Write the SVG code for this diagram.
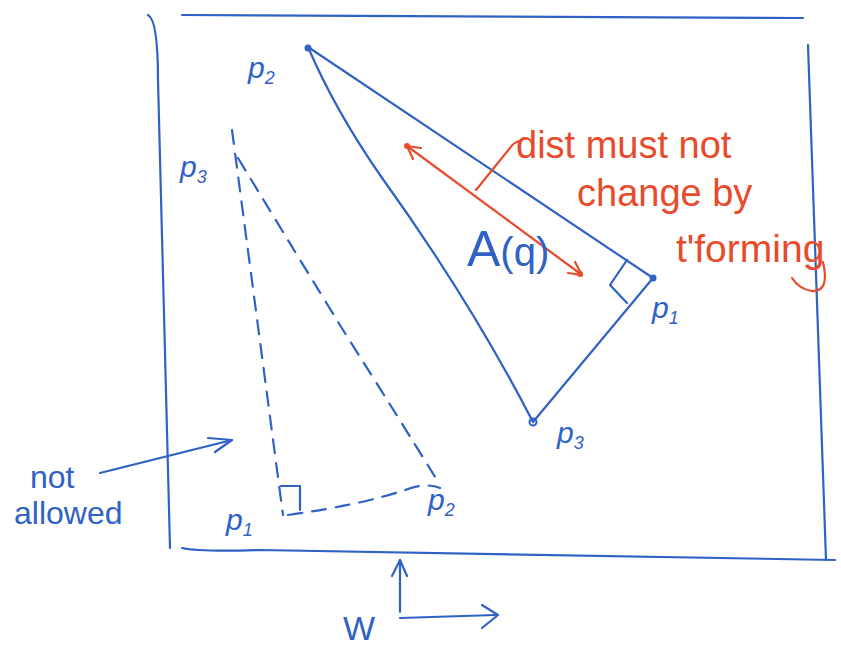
<svg xmlns="http://www.w3.org/2000/svg" width="841" height="647" viewBox="0 0 841 647">
<style>
.b{fill:none;stroke:#2f62c4;stroke-width:2.2;stroke-linecap:round;stroke-linejoin:round}
.bd{fill:none;stroke:#2f62c4;stroke-width:2.2;stroke-dasharray:14 10;stroke-linecap:round}
.r{fill:none;stroke:#e84a2c;stroke-width:2.2;stroke-linecap:round;stroke-linejoin:round}
.tb{fill:#2f62c4;font-family:"Liberation Sans",sans-serif;font-style:italic}
.tn{fill:#2f62c4;font-family:"Liberation Sans",sans-serif}
.tr{fill:#e84a2c;font-family:"Liberation Sans",sans-serif}
</style>
<rect width="841" height="647" fill="#ffffff"/>
<g id="frame">
<path class="b" d="M148,15 Q158,20 158,80 L170,548"/>
<path class="b" d="M182,15 L803,18"/>
<path class="b" d="M808,45 L826,560"/>
<path class="b" d="M182,548 Q200,552 260,550 L835,560"/>
</g>
<g id="triangle">
<path class="b" d="M308,47 L653,278"/>
<path class="b" d="M653,278 L533,422"/>
<path class="b" d="M308,47 Q335,110 380,175 Q470,300 533,422"/>
<circle cx="308" cy="48" r="3.5" fill="#2f62c4"/>
<circle cx="653" cy="278" r="3.5" fill="#2f62c4"/>
<circle cx="533" cy="422" r="3.5" fill="none" stroke="#2f62c4" stroke-width="2"/>
<path class="b" d="M627,260 L610,285 L627,303"/>
</g>
<g id="dashed-triangle">
<path class="bd" d="M232,130 L283,515"/>
<path class="bd" d="M238,158 Q300,260 343,330 Q400,420 437,480"/>
<path class="bd" d="M288,515 Q360,505 405,490 Q425,482 440,488"/>
<path class="b" d="M281,486 L300,486 L300,510"/>
</g>
<g id="red-arrow">
<path class="r" d="M407,146 L582,275"/>
<path class="r" d="M407,146 L421,148 M407,146 L413,159"/>
<circle cx="407" cy="146" r="3" fill="#e84a2c"/>
<path class="r" d="M582,275 L568,273 M582,275 L575,262"/>
<circle cx="580" cy="274" r="3" fill="#e84a2c"/>
<path class="r" d="M476,190 L510,148 Q514,142 520,141"/>
<path class="r" d="M823,262 Q830,292 812,291 Q799,289 792,278"/>
</g>
<g id="connectors">
<path class="b" d="M100,473 L232,440"/>
<path class="b" d="M208,438 L232,440 L215,452"/>
<path class="b" d="M400,612 L400,560"/>
<path class="b" d="M392,576 L400,560 L407,576"/>
<path class="b" d="M400,618 L495,615"/>
<path class="b" d="M482,605 L498,615 L482,628"/>
</g>
<g id="labels">
<text class="tb" x="248" y="78" font-size="30">p<tspan font-size="18" dy="6">2</tspan></text>
<text class="tb" x="652" y="318" font-size="30">p<tspan font-size="18" dy="6">1</tspan></text>
<text class="tb" x="557" y="443" font-size="30">p<tspan font-size="18" dy="6">3</tspan></text>
<text class="tb" x="180" y="177" font-size="30">p<tspan font-size="18" dy="6">3</tspan></text>
<text class="tb" x="226" y="530" font-size="30">p<tspan font-size="18" dy="6">1</tspan></text>
<text class="tb" x="428" y="510" font-size="30">p<tspan font-size="18" dy="6">2</tspan></text>
<text class="tn" x="467" y="266" font-size="50">A<tspan font-size="40">(q)</tspan></text>
<text class="tn" x="30" y="488" font-size="32">not</text>
<text class="tn" x="14" y="524" font-size="32">allowed</text>
<text class="tn" x="343" y="640" font-size="34">W</text>
<text class="tr" x="516" y="158" font-size="38">dist must not</text>
<text class="tr" x="577" y="206" font-size="38">change by</text>
<text class="tr" x="676" y="262" font-size="39">t'forming</text>
</g>
</svg>
